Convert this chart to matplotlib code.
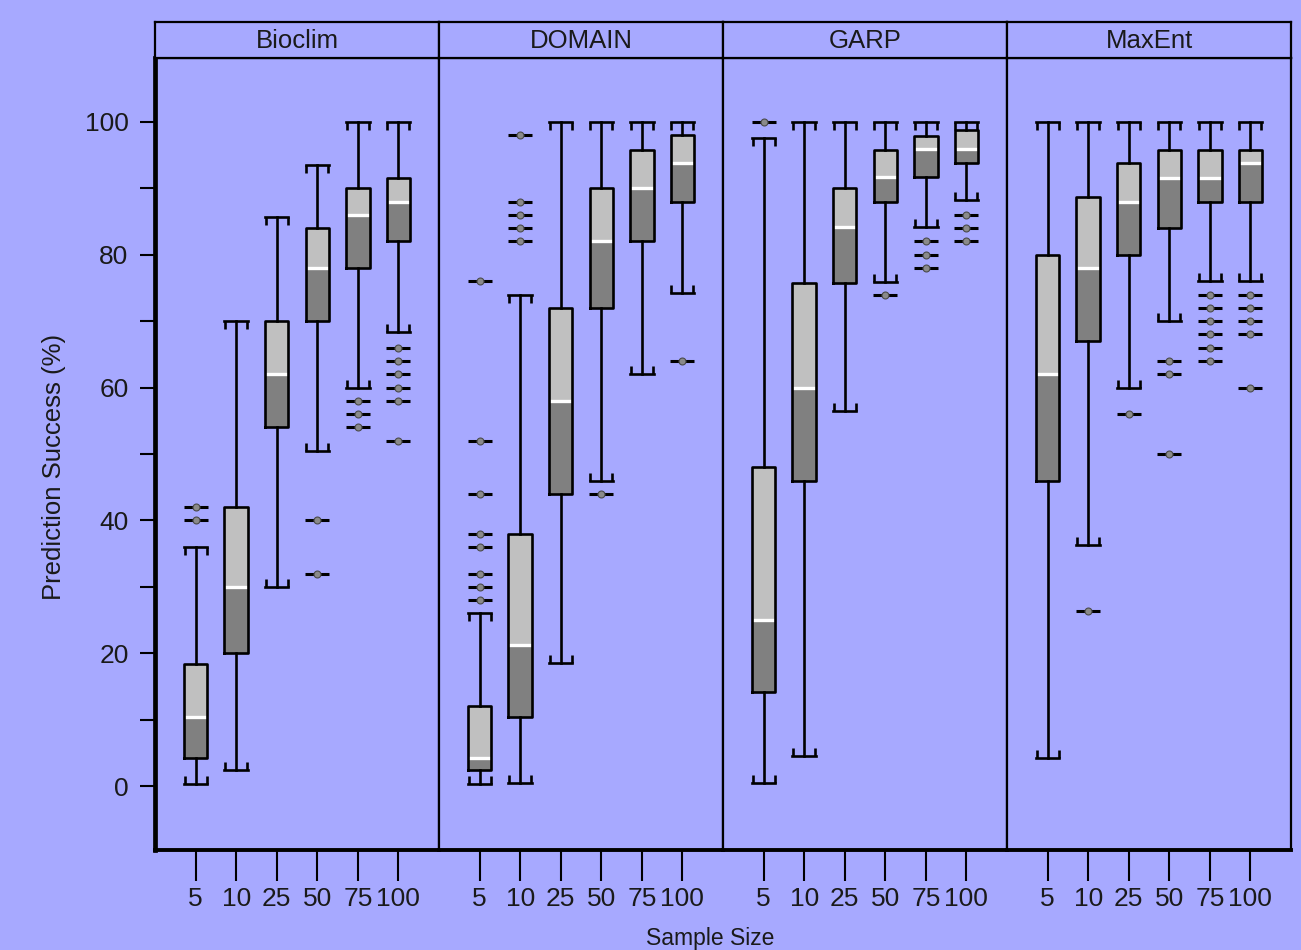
import matplotlib.pyplot as plt

# Dados
modelos = ['Bioclim', 'DOMAIN', 'GARP', 'MaxEnt']
tamanhos = ['5', '10', '25', '50', '75', '100']

bioclim_q1 = [4.2, 20, 54, 70, 78, 82]
bioclim_med = [10.4, 30, 62, 78, 86, 88]
bioclim_q3 = [18.4, 42, 70, 84, 90, 91.5]
bioclim_lo = [0.4, 2.5, 30, 50.5, 60, 68.3]
bioclim_hi = [36, 70, 85.7, 93.5, 100, 100]
bioclim_out = [[40, 42], [], [], [32, 40], [54, 56, 58], [52, 58, 60, 62, 64, 66]]

domain_q1 = [2.4, 10.4, 44, 72, 82, 88]
domain_med = [4.2, 21.3, 58, 82, 90, 93.8]
domain_q3 = [12, 38, 72, 90, 95.8, 98]
domain_lo = [0.4, 0.5, 18.5, 46, 62, 74.3]
domain_hi = [26, 74, 100, 100, 100, 100]
domain_out = [[28, 30, 32, 36, 38, 44, 52, 76], [82, 84, 86, 88, 98], [], [44], [], [64]]

garp_q1 = [14.2, 46, 75.8, 88, 91.7, 93.8]
garp_med = [25, 60, 84.2, 91.7, 95.9, 95.9]
garp_q3 = [48, 75.7, 90, 95.8, 97.8, 98.8]
garp_lo = [0.5, 4.5, 56.4, 75.9, 84.2, 88.3]
garp_hi = [97.6, 100, 100, 100, 100, 100]
garp_out = [[100], [], [], [74], [78, 80, 82], [82, 84, 86]]

maxent_q1 = [46, 67, 80, 84, 88, 88]
maxent_med = [62, 78, 88, 91.6, 91.6, 93.8]
maxent_q3 = [80, 88.7, 93.8, 95.8, 95.8, 95.8]
maxent_lo = [4.2, 36.3, 60, 70, 76, 76]
maxent_hi = [100, 100, 100, 100, 100, 100]
maxent_out = [[], [26.3], [56], [50, 62, 64], [64, 66, 68, 70, 72, 74], [60, 68, 70, 72, 74]]

dados = [
    (bioclim_q1, bioclim_med, bioclim_q3, bioclim_lo, bioclim_hi, bioclim_out),
    (domain_q1, domain_med, domain_q3, domain_lo, domain_hi, domain_out),
    (garp_q1, garp_med, garp_q3, garp_lo, garp_hi, garp_out),
    (maxent_q1, maxent_med, maxent_q3, maxent_lo, maxent_hi, maxent_out),
]

# Estilo
fundo = '#a7a9ff'
cinza_claro = '#c0c0c0'
cinza_escuro = '#808080'
texto = '#1a1a1a'
larg = 0.58
lw = 1.9
fonte = ['Liberation Sans', 'DejaVu Sans']

fig = plt.figure(figsize=(13.01, 9.5), dpi=100, facecolor=fundo)
L, R = 155 / 1301, 1291 / 1301
B, T = 1 - 850 / 950, 1 - 58 / 950
ST = 1 - 22 / 950
w = (R - L) / 4
pos = list(range(1, 7))

for i, nome in enumerate(modelos):
    q1, med, q3, lo, hi, out = dados[i]
    ax = fig.add_axes([L + i * w, B, w, T - B], facecolor=fundo)

    # metades da caixa
    ax.bar(pos, [m - a for m, a in zip(med, q1)], bottom=q1, width=larg,
           color=cinza_escuro, zorder=2)
    ax.bar(pos, [b - m for b, m in zip(q3, med)], bottom=med, width=larg,
           color=cinza_claro, zorder=2)

    stats = [dict(med=med[k], q1=q1[k], q3=q3[k], whislo=lo[k], whishi=hi[k], fliers=[])
             for k in range(6)]
    ax.bxp(stats, positions=pos, widths=larg, capwidths=larg, showfliers=False,
           boxprops=dict(color='black', lw=lw, zorder=3),
           whiskerprops=dict(color='black', lw=lw, zorder=3),
           capprops=dict(color='black', lw=lw, zorder=3),
           medianprops=dict(color='white', lw=2.4, zorder=2.5),
           manage_ticks=False)

    # pontinhas das barras de erro
    for k in range(6):
        xs = [pos[k] - larg / 2 + 0.02, pos[k] + larg / 2 - 0.02]
        ax.plot(xs, [hi[k]] * 2, ls='none', marker=3, ms=6, mew=lw, color='black', zorder=3)
        ax.plot(xs, [lo[k]] * 2, ls='none', marker=2, ms=6, mew=lw, color='black', zorder=3)

    # outliers
    for k in range(6):
        if out[k]:
            ax.plot([pos[k]] * len(out[k]), out[k], ls='none', marker='_', ms=17,
                    mew=2.2, color='black', zorder=3)
            ax.plot([pos[k]] * len(out[k]), out[k], ls='none', marker='o', ms=5,
                    mfc='#8a8a8a', mec='#4a4a4a', mew=0.8, zorder=4)

    ax.set_xlim(0, 7)
    ax.set_ylim(-9.6, 109.6)
    ax.set_xticks(pos)
    ax.set_xticklabels(tamanhos, family=fonte, fontsize=19, color=texto)
    ax.tick_params(axis='x', direction='out', length=22, width=1.5, pad=5)
    for s in ax.spines.values():
        s.set_linewidth(1.6)
    ax.spines['bottom'].set_linewidth(2.8)

    if i == 0:
        ax.set_yticks([0, 20, 40, 60, 80, 100])
        ax.set_yticks([10, 30, 50, 70, 90], minor=True)
        ax.set_yticklabels(['0', '20', '40', '60', '80', '100'], family=fonte,
                           fontsize=19, color=texto)
        ax.tick_params(axis='y', which='both', direction='out', length=11, width=1.5, pad=8)
        ax.spines['left'].set_linewidth(3.4)
        ax.set_ylabel('Prediction Success (%)', family=fonte, fontsize=18.5, color=texto)
        ax.yaxis.set_label_coords(-0.315, 0.484)
    else:
        ax.set_yticks([])

    # faixa com o nome do modelo
    sax = fig.add_axes([L + i * w, T, w, ST - T], facecolor=fundo)
    sax.set_xticks([])
    sax.set_yticks([])
    for s in sax.spines.values():
        s.set_linewidth(1.6)
    sax.text(0.5, 0.47, nome, ha='center', va='center', family=fonte,
             fontsize=18.5, color=texto, transform=sax.transAxes)

fig.text((L + R) / 2 - 0.01, 1 - 938 / 950, 'Sample Size', ha='center', va='center',
         family=fonte, fontsize=16.5, color=texto)

plt.savefig('out.png', dpi=100, facecolor=fundo)
